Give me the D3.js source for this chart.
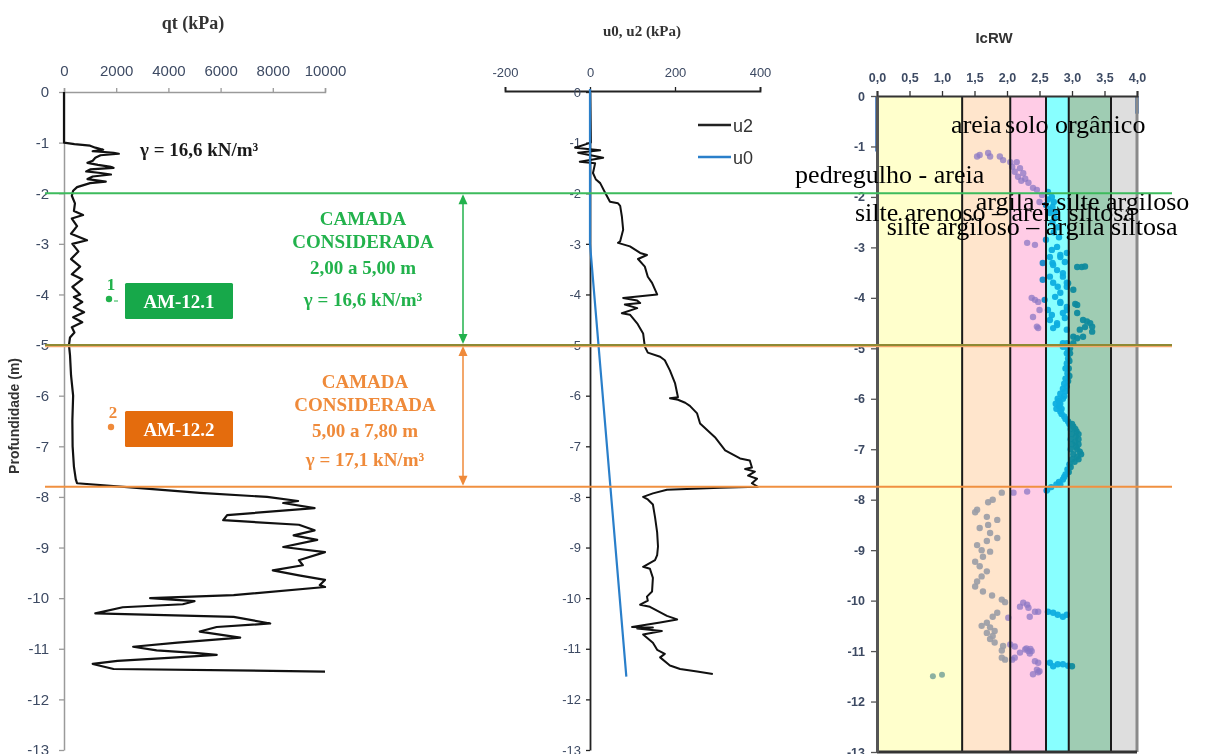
<!DOCTYPE html>
<html>
<head>
<meta charset="utf-8">
<script src="https://cdn.jsdelivr.net/npm/d3@7"></script>
<style>
  body { margin: 0; background: #fff; }
  svg { display: block; }
  .tick text { font-family: "Liberation Sans", Arial, sans-serif; }
</style>
</head>
<body>
<svg id="chart" width="1207" height="754"></svg>
<script>
// ---------- data ----------
const depthTicks = [0, -1, -2, -3, -4, -5, -6, -7, -8, -9, -10, -11, -12, -13];
const qtTicks = [0, 2000, 4000, 6000, 8000, 10000];
const uTicks = [-200, 0, 200, 400];
const icTicks = [0, 0.5, 1, 1.5, 2, 2.5, 3, 3.5, 4];

// cone resistance qt (kPa) vs depth (m)
const qtDepth = [0, -1.0, -1.03, -1.06, -1.1, -1.14, -1.17, -1.2, -1.22, -1.25, -1.3, -1.36, -1.4, -1.44, -1.48, -1.5, -1.53, -1.57, -1.6, -1.63, -1.67, -1.72, -1.77, -1.8, -1.88, -1.95, -2.05, -2.2, -2.35, -2.43, -2.5, -2.65, -2.8, -2.93, -3.0, -3.15, -3.3, -3.45, -3.6, -3.7, -3.85, -4.0, -4.05, -4.15, -4.25, -4.35, -4.45, -4.55, -4.65, -4.75, -4.85, -5.0, -5.2, -5.6, -6.0, -6.5, -7.0, -7.4, -7.65, -7.73, -7.83, -7.92, -8.0, -8.08, -8.12, -8.22, -8.36, -8.46, -8.55, -8.66, -8.76, -8.85, -8.99, -9.09, -9.25, -9.35, -9.45, -9.55, -9.64, -9.74, -9.78, -9.94, -10.0, -10.06, -10.12, -10.18, -10.3, -10.37, -10.5, -10.57, -10.66, -10.78, -10.88, -10.96, -11.03, -11.08, -11.12, -11.18, -11.24, -11.3, -11.4, -11.45];
const qtValues = [0, 0, 400, 1000, 1200, 1500, 1100, 1900, 2100, 1400, 1200, 1100, 900, 1300, 1800, 1900, 1000, 850, 1400, 1800, 1100, 900, 1600, 1000, 500, 350, 300, 420, 380, 730, 300, 500, 270, 880, 320, 550, 270, 620, 300, 700, 320, 620, 380, 700, 380, 770, 350, 700, 300, 400, 230, 190, 230, 270, 350, 320, 330, 380, 450, 500, 3030, 5200, 7780, 8970, 8400, 9600, 6250, 6100, 9000, 9600, 8800, 9700, 8400, 10000, 9000, 9150, 8000, 9000, 10000, 9800, 10000, 6500, 3300, 5000, 4550, 2250, 1200, 6500, 7900, 5850, 5200, 6750, 4350, 2650, 3550, 5000, 5850, 4000, 2050, 1100, 1900, 10000];

// pore pressure u2 (kPa) vs depth (m)
const u2Depth = [0, -1.0, -1.1, -1.15, -1.2, -1.3, -1.38, -1.41, -1.6, -1.73, -1.8, -1.98, -2.17, -2.2, -2.25, -2.46, -2.72, -2.95, -2.98, -3.05, -3.18, -3.22, -3.3, -3.45, -3.65, -3.77, -4.0, -4.07, -4.12, -4.17, -4.2, -4.27, -4.37, -4.4, -4.57, -4.77, -5.03, -5.15, -5.23, -5.3, -5.5, -5.75, -6.03, -6.05, -6.08, -6.14, -6.2, -6.35, -6.55, -6.82, -7.08, -7.24, -7.28, -7.42, -7.45, -7.5, -7.58, -7.64, -7.73, -7.8, -7.82, -7.86, -7.93, -8.0, -8.05, -8.15, -8.4, -8.7, -8.98, -9.15, -9.25, -9.38, -9.42, -9.6, -9.87, -9.97, -10.05, -10.13, -10.17, -10.35, -10.42, -10.48, -10.57, -10.58, -10.6, -10.65, -10.72, -10.88, -11.02, -11.1, -11.17, -11.33, -11.4, -11.45, -11.5];
const u2Values = [0, 2, -35, 24, -28, 31, -24, 12, 7, 14, 24, 35, 47, 66, 71, 75, 78, 71, 66, 94, 118, 134, 113, 129, 136, 146, 158, 78, 111, 118, 82, 111, 75, 94, 111, 125, 129, 136, 165, 176, 188, 200, 207, 188, 207, 224, 235, 252, 259, 294, 318, 353, 376, 381, 365, 388, 372, 393, 381, 395, 306, 181, 148, 125, 136, 148, 153, 158, 160, 158, 153, 125, 141, 148, 146, 134, 136, 118, 141, 181, 205, 165, 99, 148, 111, 169, 125, 148, 158, 176, 165, 188, 212, 252, 289];

// hydrostatic pressure u0 (kPa) vs depth (m), water level at 3,0 m
const u0Depth = [0, -3.0, -11.55];
const u0Values = [0, 0, 85.5];

// soil behaviour type index IcRW: zone limits and names
const zoneLimits = [0, 1.31, 2.05, 2.6, 2.95, 3.6, 4.0];
const zoneColors = ["#ffffcc", "#ffe5cc", "#ffcce6", "#88ffff", "#9fccb3", "#dedede"];
const zoneNames = ["pedregulho - areia", "areia", "silte arenoso – areia siltosa", "silte argiloso – argila siltosa", "argila - silte argiloso", "solo orgânico"];

// IcRW readings [Ic, depth]
const icPurple = [[1.54,-1.2],[1.58,-1.17],[1.71,-1.13],[1.74,-1.2],[1.89,-1.2],[1.94,-1.27],[2.05,-1.31],[2.15,-1.31],[2.08,-1.4],[2.2,-1.43],[2.12,-1.5],[2.25,-1.53],[2.17,-1.6],[2.28,-1.64],[2.22,-1.68],[2.33,-1.72],[2.4,-1.82],[2.46,-1.86],[2.54,-1.96],[2.5,-2.1],[2.31,-2.91],[2.43,-2.95],[2.38,-4.0],[2.43,-4.04],[2.48,-4.08],[2.5,-4.24],[2.4,-4.38],[2.46,-4.57],[2.48,-4.6],
  [2.1,-7.86],[2.31,-7.84],[2.02,-10.34],[2.2,-10.12],[2.25,-10.04],[2.31,-10.08],[2.33,-10.14],[2.43,-10.22],[2.48,-10.22],[2.35,-10.32],[2.05,-10.87],[2.12,-10.91],[2.2,-11.03],[2.12,-11.13],[2.08,-11.17],[2.28,-10.97],[2.3,-10.95],[2.33,-11.0],[2.36,-10.96],[2.38,-11.0],[2.35,-11.05],[2.43,-11.2],[2.48,-11.23],[2.46,-11.37],[2.5,-11.4],[2.48,-11.42],[2.4,-11.46]];

const icBlue = [[2.63,-1.9],[2.69,-2.0],[2.63,-2.05],[2.72,-2.1],[2.6,-2.16],[2.7,-2.2],[2.65,-2.25],[2.75,-2.3],[2.66,-2.32],[2.74,-2.42],[2.7,-2.5],[2.78,-2.6],[2.72,-2.7],[2.6,-2.85],[2.8,-2.8],[2.77,-2.99],[2.69,-3.05],[2.92,-3.11],[2.82,-3.15],[2.82,-3.19],[2.66,-3.19],[2.89,-3.29],[2.7,-3.31],[2.55,-3.31],[2.71,-3.35],[3.08,-3.39],[3.15,-3.39],[3.2,-3.38],[2.77,-3.45],[2.86,-3.51],[2.66,-3.58],[2.86,-3.58],[2.55,-3.64],[2.92,-3.7],[2.71,-3.7],[2.94,-3.71],[2.78,-3.78],[2.92,-3.78],[3.02,-3.84],[2.82,-3.9],[2.74,-3.98],[2.58,-4.04],[2.82,-4.08],[2.82,-4.1],[3.05,-4.12],[3.08,-4.14],[2.92,-4.18],[2.63,-4.24],[2.92,-4.24],[3.08,-4.3],[2.86,-4.3],[2.69,-4.34],[2.89,-4.4],[2.66,-4.44],[3.17,-4.44],[3.23,-4.47],[2.77,-4.5],[3.28,-4.5],[2.77,-4.54],[3.31,-4.57],[3.2,-4.58],[2.71,-4.6],[3.12,-4.63],[2.92,-4.63],[3.31,-4.67],[3.02,-4.77],[3.17,-4.77],[3.08,-4.8],[2.86,-4.9],[3.02,-4.9],[2.92,-4.9],[2.86,-4.97],
  [2.93,-5.0],[2.97,-5.0],[2.95,-5.05],[2.92,-5.1],[2.97,-5.1],[2.94,-5.2],[2.96,-5.25],[2.92,-5.3],[2.95,-5.4],[2.9,-5.4],[2.93,-5.5],[2.96,-5.55],[2.9,-5.6],[2.94,-5.65],[2.88,-5.7],[2.92,-5.75],[2.86,-5.8],[2.9,-5.85],[2.82,-5.9],[2.88,-5.95],[2.78,-6.0],[2.86,-6.0],[2.8,-6.05],[2.75,-6.1],[2.82,-6.1],[2.8,-6.15],[2.76,-6.2],[2.84,-6.2],[2.82,-6.25],[2.84,-6.3],[2.88,-6.35],[2.9,-6.4],[2.94,-6.45],[2.96,-6.5],[3.0,-6.5],[3.02,-6.55],[2.98,-6.6],[3.05,-6.6],[3.07,-6.65],[3.0,-6.7],[3.1,-6.7],[3.06,-6.75],[2.98,-6.8],[3.1,-6.8],[3.05,-6.85],[3.0,-6.9],[3.1,-6.9],[3.06,-6.95],[2.98,-7.0],[3.08,-7.0],[3.12,-7.05],[3.02,-7.1],[3.14,-7.1],[3.08,-7.15],[3.0,-7.2],[3.1,-7.2],[3.04,-7.25],[2.96,-7.3],[2.98,-7.35],[2.93,-7.4],[2.95,-7.45],[2.9,-7.5],[2.88,-7.55],[2.86,-7.6],[2.8,-7.65],[2.76,-7.7],[2.82,-7.7],[2.68,-7.75],[2.62,-7.8],[2.61,-7.82],
  [2.63,-10.22],[2.71,-10.24],[2.78,-10.28],[2.92,-10.28],[2.86,-10.32],[2.66,-11.23],[2.78,-11.26],[2.86,-11.26],[2.94,-11.29],[2.71,-11.3],[3.0,-11.3]];

const icGrey = [[1.92,-7.86],[1.78,-8.0],[1.71,-8.05],[1.54,-8.2],[1.51,-8.25],[1.69,-8.34],[1.85,-8.4],[1.71,-8.5],[1.58,-8.56],[1.74,-8.66],[1.85,-8.76],[1.69,-8.82],[1.54,-8.9],[1.61,-9.0],[1.74,-9.03],[1.63,-9.13],[1.51,-9.23],[1.58,-9.32],[1.69,-9.42],[1.61,-9.52],[1.54,-9.62],[1.51,-9.72],[1.63,-9.82],[1.77,-9.9],[1.92,-9.98],[1.97,-10.03],
  [1.85,-10.24],[1.78,-10.32],[1.69,-10.44],[1.61,-10.5],[1.74,-10.53],[1.81,-10.6],[1.69,-10.64],[1.78,-10.7],[1.74,-10.76],[1.81,-10.83],[1.94,-10.9],[1.92,-10.99],[1.92,-11.13],[1.97,-11.17]];

const icGreen = [[0.86,-11.5],[1.0,-11.47]];

// IcRW values sitting on the chart limits near the surface
const icEdgeLow = [[0, 0], [0, -1.1]];
const icEdgeHigh = [[4.0, 0], [4.0, -0.35]];

// layer limits (m)
const layerTop = -2.0, layerMid = -5.0, layerBottom = -7.8;

// ---------- drawing ----------
const svg = d3.select("#chart");
const serif = '"Liberation Serif", "Times New Roman", serif';
const sans = '"Liberation Sans", Arial, sans-serif';
const tickColor = "#3d4a63";
const green = "#22b24c", greenBox = "#17a84a";
const orange = "#ef8a3a", orangeBox = "#e46c0d";

// plain hyphen-minus for negative numbers
const fmtNum = d => (d < 0 ? "-" : "") + Math.abs(d);

const xQt = d3.scaleLinear().domain([0, 10000]).range([64, 325]);
const yQt = d3.scaleLinear().domain([0, -13]).range([92, 750]);
const xU = d3.scaleLinear().domain([-200, 400]).range([505, 760]);
const yU = d3.scaleLinear().domain([0, -13]).range([92, 750]);
const xIc = d3.scaleLinear().domain([0, 4]).range([877, 1137]);
const yIc = d3.scaleLinear().domain([0, -13]).range([96, 752]);

function styleAxis(g, lineColor, lineWidth, fontSize, weight) {
  g.select(".domain").attr("stroke", lineColor).attr("stroke-width", lineWidth);
  g.selectAll(".tick line").attr("stroke", lineColor).attr("stroke-width", 1.3);
  g.selectAll(".tick text")
    .attr("fill", tickColor)
    .attr("font-size", fontSize)
    .attr("font-weight", weight);
}

// ----- panel 1 : qt -----
const p1 = svg.append("g");
p1.append("g").attr("transform", `translate(0,${yQt(0)})`)
  .call(d3.axisTop(xQt).tickValues(qtTicks).tickFormat(fmtNum).tickSize(4).tickSizeOuter(4).tickPadding(12))
  .call(g => styleAxis(g, "#9a9a9a", 1.5, 15, "normal"));
p1.append("g").attr("transform", `translate(${xQt(0)},0)`)
  .call(d3.axisLeft(yQt).tickValues(depthTicks).tickFormat(fmtNum).tickSize(5).tickSizeOuter(0).tickPadding(10))
  .call(g => styleAxis(g, "#9a9a9a", 1.5, 15, "normal"));

p1.append("path")
  .datum(d3.range(qtDepth.length))
  .attr("fill", "none").attr("stroke", "#111").attr("stroke-width", 2.2)
  .attr("stroke-linejoin", "round")
  .attr("d", d3.line().x(i => xQt(qtValues[i])).y(i => yQt(qtDepth[i])));

p1.append("text").attr("x", 193).attr("y", 29).attr("text-anchor", "middle")
  .attr("font-family", serif).attr("font-weight", "bold").attr("font-size", 18).attr("fill", "#333")
  .text("qt (kPa)");

p1.append("text").attr("transform", `translate(19,${yQt(-6.4)}) rotate(-90)`).attr("text-anchor", "middle")
  .attr("font-family", sans).attr("font-weight", "bold").attr("font-size", 14).attr("fill", "#333")
  .text("Profundidade (m)");

p1.append("text").attr("x", 140).attr("y", 156)
  .attr("font-family", serif).attr("font-weight", "bold").attr("font-size", 19).attr("fill", "#1a1a1a")
  .text("γ = 16,6 kN/m³");

// ----- panel 2 : u0, u2 -----
const p2 = svg.append("g");
p2.append("g").attr("transform", `translate(0,${yU(0) - 1})`)
  .call(d3.axisTop(xU).tickValues(uTicks).tickFormat(fmtNum).tickSize(4).tickSizeOuter(4).tickPadding(10))
  .call(g => styleAxis(g, "#222", 1.8, 13, "normal"));
p2.append("g").attr("transform", `translate(${xU(0)},0)`)
  .call(d3.axisLeft(yU).tickValues(depthTicks).tickFormat(fmtNum).tickSize(4).tickSizeOuter(0).tickPadding(5))
  .call(g => styleAxis(g, "#222", 1.8, 13, "normal"));

p2.append("path")
  .datum(d3.range(u2Depth.length))
  .attr("fill", "none").attr("stroke", "#111").attr("stroke-width", 2)
  .attr("stroke-linejoin", "round")
  .attr("d", d3.line().x(i => xU(u2Values[i])).y(i => yU(u2Depth[i])));

p2.append("path")
  .datum(d3.range(u0Depth.length))
  .attr("fill", "none").attr("stroke", "#2a7fca").attr("stroke-width", 2.2)
  .attr("d", d3.line().x(i => xU(u0Values[i])).y(i => yU(u0Depth[i]) - (i === 0 ? 3 : 0)));

p2.append("text").attr("x", 642).attr("y", 36).attr("text-anchor", "middle")
  .attr("font-family", serif).attr("font-weight", "bold").attr("font-size", 15).attr("fill", "#333")
  .text("u0, u2 (kPa)");

const legend = [["u2", "#222"], ["u0", "#2a7fca"]];
legend.forEach(([name, col], i) => {
  const y = 125 + i * 32;
  p2.append("line").attr("x1", 698).attr("x2", 731).attr("y1", y).attr("y2", y)
    .attr("stroke", col).attr("stroke-width", 2.5);
  p2.append("text").attr("x", 733).attr("y", y + 7)
    .attr("font-family", sans).attr("font-size", 18).attr("fill", "#333").text(name);
});

// ----- panel 3 : IcRW -----
const p3 = svg.append("g");
p3.selectAll("rect.zone").data(zoneColors).join("rect")
  .attr("class", "zone")
  .attr("x", (c, i) => xIc(zoneLimits[i]))
  .attr("width", (c, i) => xIc(zoneLimits[i + 1]) - xIc(zoneLimits[i]))
  .attr("y", yIc(0)).attr("height", yIc(-13) - yIc(0))
  .attr("fill", c => c);

const dot = (sel, data, fill, op, r, blend) => sel.append("g")
  .style("mix-blend-mode", blend || "normal")
  .selectAll("circle").data(data).join("circle")
  .attr("cx", d => xIc(d[0])).attr("cy", d => yIc(d[1])).attr("r", r)
  .attr("fill", fill).attr("fill-opacity", op);

dot(p3, icGrey, "#9a9ca6", 0.9, 3.2);
dot(p3, icPurple, "#8c78c4", 0.75, 3.2);
dot(p3, icBlue, "#18aee0", 0.95, 3.2, "multiply");
dot(p3, icGreen, "#7fa89c", 0.9, 3);

const edgeLine = d3.line().x(d => xIc(d[0])).y(d => yIc(d[1]));
p3.append("path").datum(icEdgeLow).attr("d", edgeLine).attr("stroke", "#3a6fb5").attr("stroke-width", 4).attr("stroke-opacity", 0.8);
p3.append("path").datum(icEdgeHigh).attr("d", edgeLine).attr("stroke", "#3a6fb5").attr("stroke-width", 4).attr("stroke-opacity", 0.8);

// inner zone limits
p3.selectAll("line.limit").data(zoneLimits.slice(1, -1)).join("line")
  .attr("class", "limit")
  .attr("x1", d => xIc(d)).attr("x2", d => xIc(d))
  .attr("y1", yIc(0)).attr("y2", yIc(-13))
  .attr("stroke", "#1a1a1a").attr("stroke-width", 2);
p3.append("line").attr("x1", xIc(4)).attr("x2", xIc(4)).attr("y1", yIc(0)).attr("y2", yIc(-13))
  .attr("stroke", "#8a8a8a").attr("stroke-width", 3);
p3.append("line").attr("x1", xIc(0)).attr("x2", xIc(4)).attr("y1", yIc(-13)).attr("y2", yIc(-13))
  .attr("stroke", "#333").attr("stroke-width", 3);

p3.append("g").attr("transform", `translate(0,${yIc(0)})`)
  .call(d3.axisTop(xIc).tickValues(icTicks).tickFormat(d => d.toFixed(1).replace(".", ",")).tickSize(5).tickSizeOuter(5).tickPadding(9))
  .call(g => styleAxis(g, "#333", 2, 12.5, "bold"));
p3.append("g").attr("transform", `translate(${xIc(0)},0)`)
  .call(d3.axisLeft(yIc).tickValues(depthTicks).tickFormat(fmtNum).tickSize(6).tickSizeOuter(0).tickPadding(6))
  .call(g => styleAxis(g, "#555", 3, 12.5, "bold"));

p3.append("text").attr("x", 994).attr("y", 43).attr("text-anchor", "middle")
  .attr("font-family", sans).attr("font-weight", "bold").attr("font-size", 15).attr("fill", "#333")
  .text("IcRW");

// zone names, placed at [Ic, depth] anchors
const zoneLabelAt = [[-1.26, -1.72], [1.14, -0.733], [-0.34, -2.48], [0.15, -2.75], [1.52, -2.26], [1.97, -0.733]];
zoneNames.forEach((name, i) => {
  p3.append("text").attr("x", xIc(zoneLabelAt[i][0])).attr("y", yIc(zoneLabelAt[i][1]))
    .attr("font-family", serif).attr("font-size", 26).attr("fill", "#000").text(name);
});

// ----- layer limits across all panels -----
const refLine = (depth, col, w) => svg.append("line")
  .attr("x1", 45).attr("x2", 1172).attr("y1", yQt(depth)).attr("y2", yQt(depth))
  .attr("stroke", col).attr("stroke-width", w);
refLine(layerTop, "#3dbb5c", 2);
svg.append("line").attr("x1", 45).attr("x2", 1172).attr("y1", yQt(layerMid) + 1.5).attr("y2", yQt(layerMid) + 1.5)
  .attr("stroke", "#f3a76a").attr("stroke-width", 1.2);
refLine(layerMid, "#8e8a34", 2);
refLine(layerBottom, "#f09040", 2);

// double arrows marking each layer
function dblArrow(x, d0, d1, col) {
  const y0 = yQt(d0) + 1, y1 = yQt(d1) - 1;
  svg.append("line").attr("x1", x).attr("x2", x).attr("y1", y0 + 8).attr("y2", y1 - 8)
    .attr("stroke", col).attr("stroke-width", 1.5);
  svg.append("path").attr("d", `M${x},${y0} L${x - 4.5},${y0 + 10} L${x + 4.5},${y0 + 10} Z`).attr("fill", col);
  svg.append("path").attr("d", `M${x},${y1} L${x - 4.5},${y1 - 10} L${x + 4.5},${y1 - 10} Z`).attr("fill", col);
}
dblArrow(463, layerTop, layerMid, green);
dblArrow(463, layerMid, layerBottom, orange);

// layer descriptions
function block(lines, x, ys, col) {
  lines.forEach((t, i) => svg.append("text").attr("x", x).attr("y", ys[i]).attr("text-anchor", "middle")
    .attr("font-family", serif).attr("font-weight", "bold").attr("font-size", 19).attr("fill", col).text(t));
}
block(["CAMADA", "CONSIDERADA", "2,00 a 5,00 m", "γ = 16,6 kN/m³"], 363, [225, 248, 274, 306], green);
block(["CAMADA", "CONSIDERADA", "5,00 a 7,80 m", "γ = 17,1 kN/m³"], 365, [388, 411, 437, 466], orange);

// sample tags
function sample(num, label, dx, dy, col, boxCol) {
  svg.append("text").attr("x", dx + 2).attr("y", dy - 9).attr("text-anchor", "middle")
    .attr("font-family", serif).attr("font-weight", "bold").attr("font-size", 17).attr("fill", col).text(num);
  svg.append("circle").attr("cx", dx).attr("cy", dy).attr("r", 3.2).attr("fill", col);
  svg.append("rect").attr("x", 125).attr("y", dy - 16).attr("width", 108).attr("height", 36)
    .attr("rx", 1.5).attr("fill", boxCol);
  svg.append("text").attr("x", 179).attr("y", dy + 9).attr("text-anchor", "middle")
    .attr("font-family", serif).attr("font-weight", "bold").attr("font-size", 19).attr("fill", "#fff").text(label);
}
sample("1", "AM-12.1", 109, 299, green, greenBox);
svg.append("line").attr("x1", 114).attr("x2", 118).attr("y1", 301).attr("y2", 301).attr("stroke", green).attr("stroke-width", 1);
sample("2", "AM-12.2", 111, 427, orange, orangeBox);
</script>
</body>
</html>
